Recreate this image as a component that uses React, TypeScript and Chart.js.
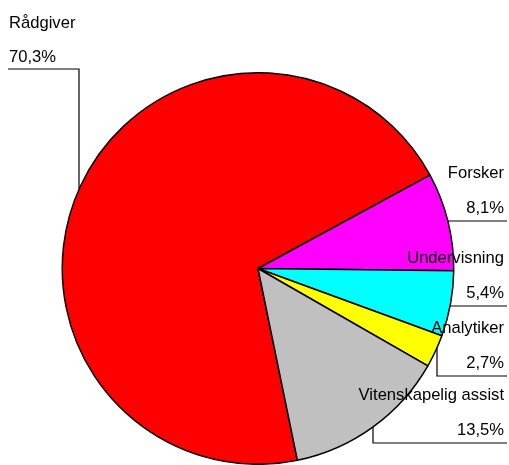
import React, { useEffect, useRef } from "react";
import { Chart, registerables } from "chart.js";

Chart.register(...registerables);

const categories = ["Rådgiver", "Forsker", "Undervisning", "Analytiker", "Vitenskapelig assist"];
const values = [70.3, 8.1, 5.4, 2.7, 13.5];
const colors = ["#FF0000", "#FF00FF", "#00FFFF", "#FFFF00", "#C0C0C0"];

const FONT = "16.6px 'Liberation Sans', Arial, sans-serif";

// leader layout per slice
const leaders = [
  { kind: "left", lineY: 69, xv: 79, textX: 9 },
  { kind: "h", lineY: 221 },
  { kind: "h", lineY: 306 },
  { kind: "v", lineY: 376, xv: 437 },
  { kind: "v", lineY: 443, xv: 373 },
];

const fmt = (v: number) => v.toFixed(1).replace(".", ",") + "%";

const labelPlugin = {
  id: "leaderLabels",
  afterDraw(chart: any) {
    const ctx = chart.ctx as CanvasRenderingContext2D;
    const meta = chart.getDatasetMeta(0);
    const total = values.reduce((a, b) => a + b, 0);
    ctx.save();
    ctx.strokeStyle = "#000";
    ctx.lineWidth = 1.2;
    ctx.fillStyle = "#000";
    ctx.font = FONT;
    ctx.textBaseline = "alphabetic";
    const rightX = 507;
    const textRight = 504;
    meta.data.forEach((arc: any, i: number) => {
      const L: any = leaders[i];
      const cx = arc.x, cy = arc.y, r = arc.outerRadius;
      const name = categories[i];
      const pct = fmt((values[i] / total) * 100);
      ctx.beginPath();
      if (L.kind === "left") {
        const dx = L.xv - cx;
        const ey = cy - Math.sqrt(Math.max(0, r * r - dx * dx));
        ctx.moveTo(8, L.lineY);
        ctx.lineTo(L.xv, L.lineY);
        ctx.lineTo(L.xv, ey);
        ctx.stroke();
        ctx.textAlign = "left";
        ctx.fillText(name, L.textX, L.lineY - 41);
        ctx.fillText(pct, L.textX, L.lineY - 7);
      } else if (L.kind === "h") {
        const dy = L.lineY - cy;
        const ex = cx + Math.sqrt(Math.max(0, r * r - dy * dy));
        ctx.moveTo(ex, L.lineY);
        ctx.lineTo(rightX, L.lineY);
        ctx.stroke();
        ctx.textAlign = "right";
        ctx.fillText(name, textRight, L.lineY - 43);
        ctx.fillText(pct, textRight, L.lineY - 8);
      } else {
        const dx = L.xv - cx;
        const ey = cy + Math.sqrt(Math.max(0, r * r - dx * dx));
        ctx.moveTo(L.xv, ey);
        ctx.lineTo(L.xv, L.lineY);
        ctx.lineTo(rightX, L.lineY);
        ctx.stroke();
        ctx.textAlign = "right";
        ctx.fillText(name, textRight, L.lineY - 43);
        ctx.fillText(pct, textRight, L.lineY - 8);
      }
    });
    ctx.restore();
  },
};

export default function App() {
  const ref = useRef<HTMLCanvasElement | null>(null);
  useEffect(() => {
    if (!ref.current) return;
    const chart = new Chart(ref.current, {
      type: "pie",
      data: {
        labels: categories,
        datasets: [
          {
            data: values,
            backgroundColor: colors,
            borderColor: "#000",
            borderWidth: 1.5,
          },
        ],
      },
      options: {
        animation: false,
        responsive: false,
        rotation: 168.4,
        layout: { padding: { left: 61, right: 54, top: 72, bottom: -1 } },
        plugins: {
          legend: { display: false },
          tooltip: { enabled: false },
        },
      },
      plugins: [labelPlugin],
    });
    return () => chart.destroy();
  }, []);
  return (
    <div style={{ position: "fixed", left: 0, top: 0, width: 509, height: 465, background: "#fff" }}>
      <canvas ref={ref} width={509} height={465} style={{ width: 509, height: 465 }} />
    </div>
  );
}
